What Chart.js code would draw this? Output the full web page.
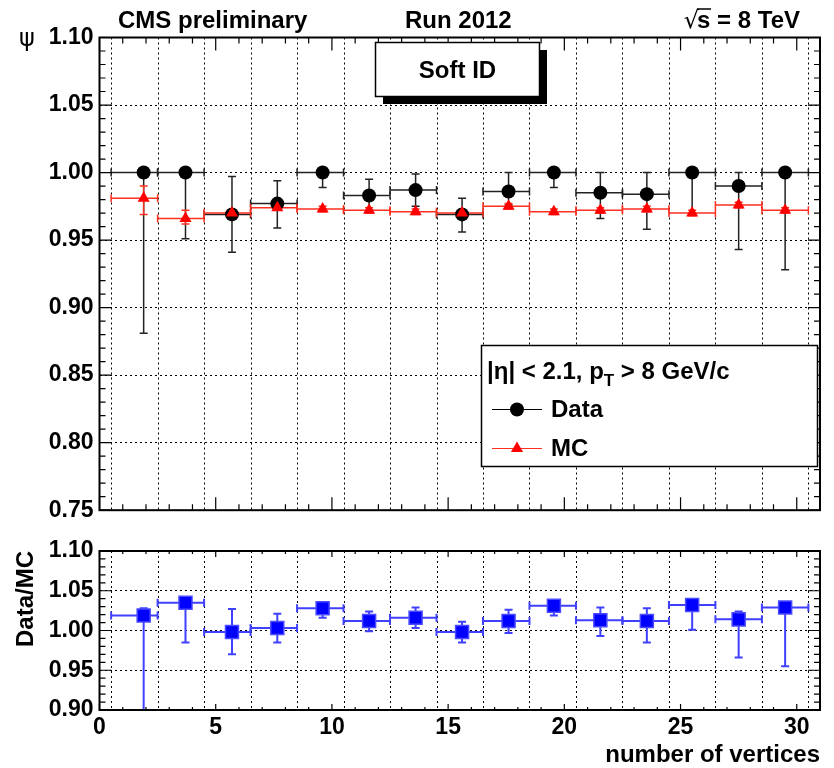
<!DOCTYPE html>
<html>
<head>
<meta charset="utf-8">
<script src="https://cdn.jsdelivr.net/npm/chart.js@4.4.1/dist/chart.umd.min.js"></script>
<style>
  html, body { margin: 0; padding: 0; background: #fff; }
  #wrap { position: relative; width: 834px; height: 768px; }
  #top { position: absolute; left: 0; top: 0; }
  #bot { position: absolute; left: 0; top: 530px; }
</style>
</head>
<body>
<div id="wrap">
  <canvas id="top" width="834" height="530"></canvas>
  <canvas id="bot" width="834" height="238"></canvas>
</div>
<script>
// ====== data ======
const binEdges = [0.5, 2.5, 4.5, 6.5, 8.5, 10.5, 12.5, 14.5, 16.5, 18.5, 20.5, 22.5, 24.5, 26.5, 28.5, 30.5];
const nVtx = [1.9, 3.7, 5.7, 7.65, 9.6, 11.6, 13.6, 15.6, 17.6, 19.55, 21.55, 23.55, 25.5, 27.5, 29.5];

const effData   = [1.000, 1.000, 0.969, 0.977, 1.000, 0.983, 0.987, 0.969, 0.986, 1.000, 0.985, 0.984, 1.000, 0.990, 1.000];
const effDataLo = [0.881, 0.951, 0.941, 0.959, 0.989, 0.972, 0.975, 0.956, 0.976, 0.989, 0.966, 0.958, 0.970, 0.943, 0.928];
const effDataHi = [1.000, 1.000, 0.997, 0.994, 1.000, 0.995, 0.999, 0.981, 1.000, 1.000, 1.000, 1.000, 1.000, 1.000, 1.000];

const effMC   = [0.981, 0.966, 0.970, 0.974, 0.973, 0.972, 0.971, 0.970, 0.975, 0.971, 0.972, 0.973, 0.970, 0.976, 0.972];
const effMCLo = [0.969, 0.962, 0.968, 0.972, 0.971, 0.970, 0.969, 0.968, 0.973, 0.969, 0.970, 0.971, 0.968, 0.974, 0.970];
const effMCHi = [0.990, 0.972, 0.972, 0.976, 0.975, 0.974, 0.973, 0.972, 0.977, 0.973, 0.974, 0.975, 0.972, 0.978, 0.974];

const ratio   = [1.019, 1.035, 0.998, 1.003, 1.028, 1.012, 1.016, 0.998, 1.012, 1.031, 1.013, 1.012, 1.032, 1.014, 1.029];
const ratioLo = [0.880, 0.985, 0.970, 0.985, 1.016, 0.999, 1.003, 0.985, 0.997, 1.019, 0.993, 0.985, 1.001, 0.966, 0.955];
const ratioHi = [1.028, 1.035, 1.027, 1.021, 1.028, 1.024, 1.029, 1.011, 1.026, 1.031, 1.029, 1.028, 1.032, 1.024, 1.029];

const xTicks = [0, 5, 10, 15, 20, 25, 30];
const yTicksTop = [0.75, 0.80, 0.85, 0.90, 0.95, 1.00, 1.05, 1.10];
const yTicksBot = [0.90, 0.95, 1.00, 1.05, 1.10];

// ====== helpers ======
const FAM = '"Liberation Sans", Arial, Helvetica, sans-serif';
const pts = (ys) => nVtx.map((x, i) => ({ x, y: ys[i] }));

function drawErr(chart, ys, lo, hi, color, width){
  const { ctx, chartArea: a, scales: { x, y } } = chart;
  ctx.save();
  ctx.beginPath(); ctx.rect(a.left, a.top, a.right - a.left, a.bottom - a.top); ctx.clip();
  ctx.strokeStyle = color; ctx.lineWidth = width;
  nVtx.forEach((xv, i) => {
    const px = x.getPixelForValue(xv), py = y.getPixelForValue(ys[i]);
    const xl = x.getPixelForValue(binEdges[i]), xr = x.getPixelForValue(binEdges[i + 1]);
    const yl = y.getPixelForValue(lo[i]), yh = y.getPixelForValue(hi[i]);
    ctx.beginPath();
    ctx.moveTo(xl, py); ctx.lineTo(xr, py);
    ctx.moveTo(xl, py - 4); ctx.lineTo(xl, py + 4);
    ctx.moveTo(xr, py - 4); ctx.lineTo(xr, py + 4);
    ctx.moveTo(px, yl); ctx.lineTo(px, yh);
    if (lo[i] < ys[i]) { ctx.moveTo(px - 4, yl); ctx.lineTo(px + 4, yl); }
    if (hi[i] > ys[i]) { ctx.moveTo(px - 4, yh); ctx.lineTo(px + 4, yh); }
    ctx.stroke();
  });
  ctx.restore();
}

function drawEdgeGrid(chart){
  const { ctx, chartArea: a, scales: { x } } = chart;
  ctx.save();
  ctx.strokeStyle = '#000'; ctx.lineWidth = 1; ctx.setLineDash([2, 3]);
  ctx.beginPath();
  binEdges.forEach(e => {
    const px = Math.round(x.getPixelForValue(e)) + 0.5;
    ctx.moveTo(px, a.top); ctx.lineTo(px, a.bottom);
  });
  ctx.stroke();
  ctx.restore();
}

// frame + inward ticks like ROOT
function drawFrame(chart, o){
  const { ctx, chartArea: a, scales: { x, y } } = chart;
  ctx.save();
  ctx.strokeStyle = '#000'; ctx.lineWidth = 1.2;
  ctx.beginPath();
  for (let v = Math.ceil(x.min); v <= x.max; v++) {
    const px = x.getPixelForValue(v);
    const len = v % 5 === 0 ? o.xMajor : o.xMinor;
    ctx.moveTo(px, a.bottom); ctx.lineTo(px, a.bottom - len);
    ctx.moveTo(px, a.top); ctx.lineTo(px, a.top + len);
  }
  const n = Math.round((y.max - y.min) / 0.01);
  for (let k = 0; k <= n; k++) {
    const py = y.getPixelForValue(y.min + k * 0.01);
    const len = k % 5 === 0 ? o.yMajor : o.yMinor;
    ctx.moveTo(a.left, py); ctx.lineTo(a.left + len, py);
    ctx.moveTo(a.right, py); ctx.lineTo(a.right - len, py);
  }
  ctx.stroke();
  ctx.lineWidth = 2;
  ctx.strokeRect(a.left, a.top, a.right - a.left, a.bottom - a.top);
  ctx.restore();
}

function tri(ctx, cx, cy, r){
  ctx.beginPath();
  ctx.moveTo(cx, cy - r);
  ctx.lineTo(cx + r * 0.866, cy + r / 2);
  ctx.lineTo(cx - r * 0.866, cy + r / 2);
  ctx.closePath(); ctx.fill();
}

// ====== upper pad ======
const topPlugin = {
  id: 'topPad',
  beforeDatasetsDraw(chart){
    drawEdgeGrid(chart);
    drawErr(chart, effData, effDataLo, effDataHi, '#222', 1.5);
    drawErr(chart, effMC, effMCLo, effMCHi, '#ff3020', 1.5);
  },
  afterDraw(chart){
    drawFrame(chart, { xMajor: 13, xMinor: 6, yMajor: 12, yMinor: 6 });
    const ctx = chart.ctx;
    ctx.save();
    ctx.fillStyle = '#000';
    ctx.font = 'bold 24px ' + FAM;
    ctx.textBaseline = 'alphabetic';
    ctx.textAlign = 'left';
    ctx.fillText('CMS preliminary', 118, 28);
    ctx.fillText('Run 2012', 405, 28);
    ctx.textAlign = 'right';
    ctx.fillText('s = 8 TeV', 800, 28);
    const sw = ctx.measureText('s = 8 TeV').width;
    ctx.font = '24px "DejaVu Sans", sans-serif';
    ctx.fillText('\u221A', 800 - sw + 2, 28);
    ctx.lineWidth = 1.5;
    ctx.beginPath(); ctx.moveTo(800 - sw, 9); ctx.lineTo(800 - sw + 14, 9); ctx.stroke();

    // y title
    ctx.font = '24px "DejaVu Sans", sans-serif';
    ctx.textAlign = 'center'; ctx.textBaseline = 'middle';
    ctx.fillText('\u03C8', 27, 40);

    // Soft ID box
    ctx.fillStyle = '#000';
    ctx.fillRect(383, 50, 164, 54);
    ctx.fillStyle = '#fff';
    ctx.fillRect(375, 42, 165, 55);
    ctx.strokeStyle = '#000'; ctx.lineWidth = 1.5;
    ctx.strokeRect(375.5, 42.5, 164, 54);
    ctx.fillStyle = '#000';
    ctx.font = 'bold 24px ' + FAM;
    ctx.fillText('Soft ID', 457.5, 71);

    // legend
    ctx.fillStyle = '#fff';
    ctx.fillRect(482, 346, 336, 121);
    ctx.strokeRect(481.5, 345.5, 336, 121);
    ctx.fillStyle = '#000';
    ctx.textAlign = 'left'; ctx.textBaseline = 'alphabetic';
    let tx = 487;
    const head1 = '|\u03B7| < 2.1, p';
    ctx.fillText(head1, tx, 379);
    tx += ctx.measureText(head1).width;
    ctx.font = 'bold 17px ' + FAM;
    ctx.fillText('T', tx, 386);
    tx += ctx.measureText('T').width;
    ctx.font = 'bold 24px ' + FAM;
    ctx.fillText(' > 8 GeV/c', tx, 379);

    ctx.lineWidth = 1;
    ctx.strokeStyle = '#000';
    ctx.beginPath(); ctx.moveTo(492, 409.5); ctx.lineTo(542, 409.5); ctx.stroke();
    ctx.beginPath(); ctx.arc(517, 409.5, 7, 0, Math.PI * 2); ctx.fill();
    ctx.strokeStyle = '#ff3020';
    ctx.beginPath(); ctx.moveTo(492, 448.5); ctx.lineTo(542, 448.5); ctx.stroke();
    ctx.fillStyle = '#ff0000';
    tri(ctx, 517, 448.5, 7);
    ctx.fillStyle = '#000';
    ctx.textBaseline = 'middle';
    ctx.fillText('Data', 551, 410);
    ctx.fillText('MC', 551, 449);
    ctx.restore();
  }
};

new Chart(document.getElementById('top'), {
  type: 'scatter',
  data: {
    datasets: [
      { label: 'Data', data: pts(effData), pointStyle: 'circle', pointRadius: 7,
        backgroundColor: '#000', borderColor: '#000', borderWidth: 0, order: 1 },
      { label: 'MC', data: pts(effMC), pointStyle: 'triangle', pointRadius: 7,
        backgroundColor: '#ff0000', borderColor: '#ff0000', borderWidth: 0, order: 0 }
    ]
  },
  options: {
    responsive: false, animation: false,
    layout: { padding: { top: 37.5, right: 14, left: 0, bottom: 0 } },
    plugins: { legend: { display: false }, tooltip: { enabled: false } },
    scales: {
      x: { type: 'linear', min: 0, max: 31,
        ticks: { display: false }, grid: { display: false }, border: { display: false },
        afterFit: s => { s.height = 19; } },
      y: { min: 0.75, max: 1.10,
        afterBuildTicks: s => { s.ticks = yTicksTop.map(v => ({ value: v })); },
        ticks: { callback: v => v.toFixed(2), color: '#000', padding: 6,
          font: { family: FAM, size: 23, weight: 'bold' } },
        grid: { color: '#000', lineWidth: 1, drawTicks: false },
        border: { display: false, dash: [2, 3] },
        afterFit: s => { s.width = 99.5; } }
    }
  },
  plugins: [topPlugin]
});

// ====== ratio pad ======
const botPlugin = {
  id: 'botPad',
  beforeDatasetsDraw(chart){
    drawEdgeGrid(chart);
    drawErr(chart, ratio, ratioLo, ratioHi, '#4040ff', 2);
  },
  afterDraw(chart){
    drawFrame(chart, { xMajor: 6, xMinor: 3, yMajor: 12, yMinor: 6 });
  }
};

new Chart(document.getElementById('bot'), {
  type: 'scatter',
  data: {
    datasets: [
      { label: 'Data/MC', data: pts(ratio), pointStyle: 'rect', pointRadius: 9.2,
        backgroundColor: '#0000ff', borderColor: '#4a4aff', borderWidth: 1.5 }
    ]
  },
  options: {
    responsive: false, animation: false,
    layout: { padding: { top: 21, right: 14, left: 0, bottom: 0 } },
    plugins: { legend: { display: false }, tooltip: { enabled: false } },
    scales: {
      x: { type: 'linear', min: 0, max: 31,
        afterBuildTicks: s => { s.ticks = xTicks.map(v => ({ value: v })); },
        ticks: { color: '#000', padding: 4, autoSkip: false, maxRotation: 0,
          font: { family: FAM, size: 23, weight: 'bold' } },
        grid: { display: false, drawTicks: false }, border: { display: false },
        title: { display: true, text: 'number of vertices', align: 'end', color: '#000',
          font: { family: FAM, size: 24, weight: 'bold' }, padding: { top: 0, bottom: -2 } },
        afterFit: s => { s.height = 58; } },
      y: { min: 0.90, max: 1.10,
        afterBuildTicks: s => { s.ticks = yTicksBot.map(v => ({ value: v })); },
        ticks: { callback: v => v.toFixed(2), color: '#000', padding: 6,
          font: { family: FAM, size: 23, weight: 'bold' } },
        grid: { color: '#000', lineWidth: 1, drawTicks: false },
        border: { display: false, dash: [2, 3] },
        title: { display: true, text: 'Data/MC', align: 'end', color: '#000',
          font: { family: FAM, size: 24, weight: 'bold' }, padding: { top: 12, bottom: 0 } },
        afterFit: s => { s.width = 99.5; } }
    }
  },
  plugins: [botPlugin]
});
</script>
</body>
</html>
